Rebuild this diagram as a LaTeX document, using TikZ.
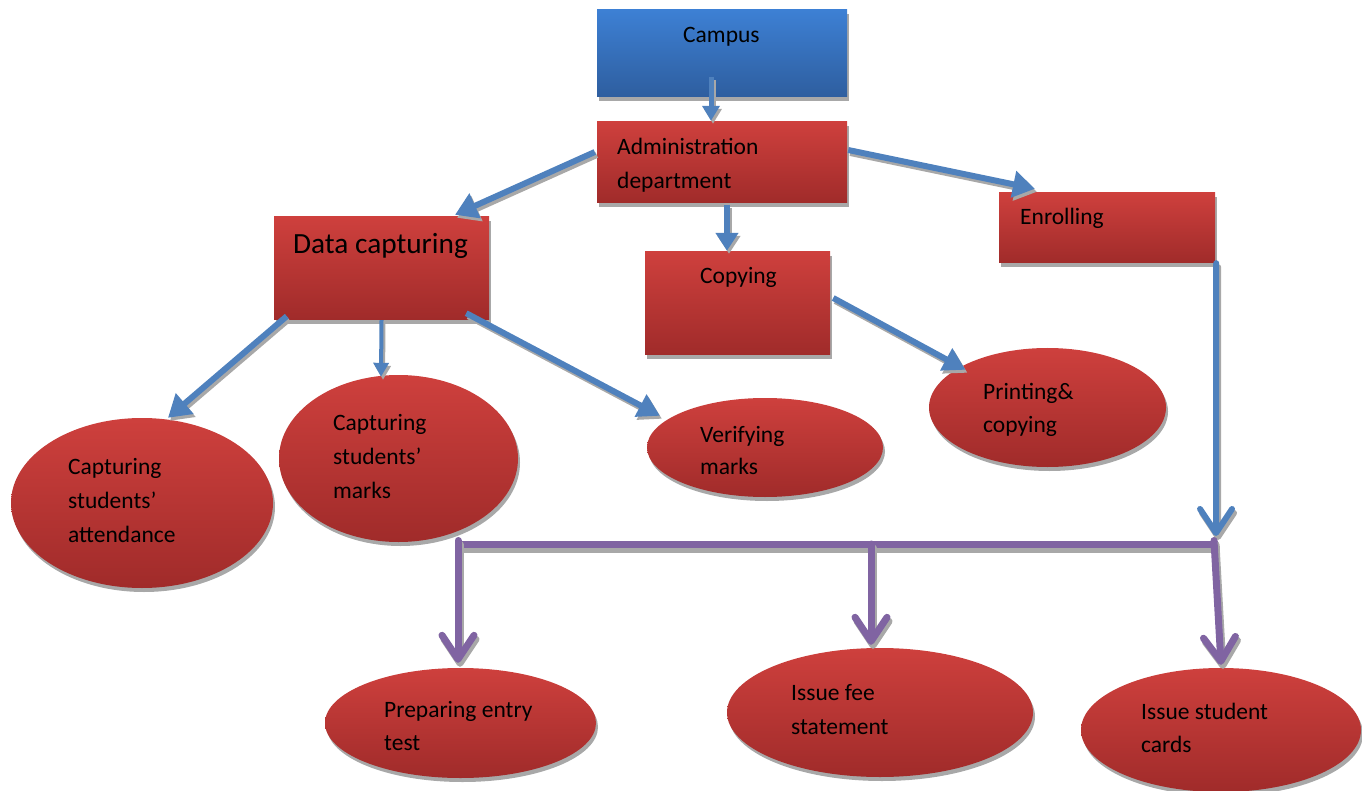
\documentclass[tikz,border=0pt]{standalone}
\usepackage{fontspec}
\setmainfont{Carlito}
\usetikzlibrary{arrows.meta,shadows,calc,shapes.geometric}
\definecolor{redtop}{HTML}{CE403D}
\definecolor{redbot}{HTML}{A02B2A}
\definecolor{bluetop}{HTML}{3D80D4}
\definecolor{bluebot}{HTML}{2E5E9F}
\definecolor{blueline}{HTML}{4F81BD}
\definecolor{purpleline}{HTML}{8064A2}
\definecolor{shgray}{HTML}{A8A8A8}
\begin{document}
\begin{tikzpicture}[x=1pt,y=-1pt,
  shadowed/.style={drop shadow={shadow xshift=2pt,shadow yshift=-4pt,fill=shgray,opacity=1}},
  redbox/.style={rectangle,inner sep=0pt,top color=redtop,bottom color=redbot,draw=none,shadowed},
  bluebox/.style={rectangle,inner sep=0pt,top color=bluetop,bottom color=bluebot,draw=none,shadowed},
  redoval/.style={ellipse,inner sep=0pt,top color=redtop,bottom color=redbot,draw=none,shadowed},
  lbl/.style={anchor=base west,align=left,inner sep=0pt,font=\fontsize{23.5}{34}\selectfont},
  barrow/.style n args={3}{line width=#1,draw=blueline,-{Triangle[length=#2,width=#3]},
    preaction={draw=shgray,line width=#1,-{Triangle[length=#2,width=#3]},transform canvas={xshift=2pt,yshift=-3pt}}},
  varrow/.style n args={2}{line width=#2,draw=#1,line cap=round,line join=round,
    -{Straight Barb[length=24pt,width=32pt,line cap=round,line join=round]},
    preaction={draw=shgray,line width=#2,line cap=round,line join=round,
      -{Straight Barb[length=24pt,width=32pt,line cap=round,line join=round]},transform canvas={xshift=2pt,yshift=-4pt}}},
  busline/.style={line width=7pt,draw=purpleline,line cap=butt,line join=miter,
    preaction={draw=shgray,line width=7pt,transform canvas={xshift=2pt,yshift=-5pt}}},
]
\useasboundingbox (0,0) rectangle (1362,791);

% boxes
\node[bluebox,minimum width=250pt,minimum height=87pt] (campus) at (722,53.5) {};
\node[redbox,minimum width=250pt,minimum height=81pt] (admin) at (722,162.5) {};
\node[redbox,minimum width=215pt,minimum height=103pt] (data) at (381.5,268.5) {};
\node[redbox,minimum width=185pt,minimum height=103pt] (copying) at (737.5,303.5) {};
\node[redbox,minimum width=216pt,minimum height=70pt] (enroll) at (1107,228) {};

% ellipses
\node[redoval,minimum width=262pt,minimum height=170pt] (att) at (142,503) {};
\node[redoval,minimum width=239pt,minimum height=167pt] (marks) at (398.5,458.5) {};
\node[redoval,minimum width=236pt,minimum height=99pt] (verif) at (765,447.5) {};
\node[redoval,minimum width=237pt,minimum height=119pt] (print) at (1047.5,407.5) {};
\node[redoval,minimum width=271pt,minimum height=110pt] (prep) at (460.5,723) {};
\node[redoval,minimum width=306pt,minimum height=129pt] (fee) at (880,712.5) {};
\node[redoval,minimum width=280pt,minimum height=124pt] (cards) at (1221,730) {};

% texts (base anchor = baseline of last line)
\node[lbl] (tcampus) at (683,43) {Campus};
\node[lbl] (tadmin) at (617,189) {Administration\\department};
\node[lbl,font=\fontsize{29.3}{34}\selectfont] (tdata) at (293,254) {Data capturing};
\node[lbl] (tcopy) at (700,284) {Copying};
\node[lbl] (tenroll) at (1020,225) {Enrolling};
\node[lbl] (tatt) at (68,542) {Capturing\\students’\\attendance};
\node[lbl] (tmarks) at (333,498) {Capturing\\students’\\marks};
\node[lbl,font=\fontsize{23.5}{32}\selectfont] (tverif) at (700,474) {Verifying\\marks};
\node[lbl,font=\fontsize{23.5}{33}\selectfont] (tprint) at (983,432) {Printing\&\\copying};
\node[lbl,font=\fontsize{23.5}{33}\selectfont] (tprep) at (384,750) {Preparing entry\\test};
\node[lbl] (tfee) at (791,734) {Issue fee\\statement};
\node[lbl,font=\fontsize{23.5}{33}\selectfont] (tcards) at (1141,752) {Issue student\\cards};

% blue arrows
\draw[barrow={5pt}{15pt}{17pt}] ($(campus.south)+(-11,-20)$) -- ($(admin.north)+(-11,-1)$);
\draw[barrow={6pt}{22pt}{26pt}] ($(admin.west)+(-2,-10.5)$) -- ($(data.north)+(73.5,-2)$);
\draw[barrow={6pt}{18pt}{22pt}] ($(admin.south)+(5,2)$) -- ($(copying.north)+(-10.5,-1)$);
\draw[barrow={6pt}{22pt}{26pt}] ($(admin.east)+(1,-12.5)$) -- ($(enroll.north)+(-72,-4)$);
\draw[barrow={6pt}{22pt}{26pt}] ($(data.south west)+(13,-4)$) -- ($(att.north)+(26,0)$);
\draw[barrow={4pt}{14pt}{15pt}] (data.south) -- ($(marks.north)+(-17.5,2)$);
\draw[barrow={6pt}{22pt}{24pt}] ($(data.south east)+(-23,-7)$) -- ($(verif.north)+(-105,18)$);
\draw[barrow={6pt}{22pt}{24pt}] ($(copying.east)+(3,-5.5)$) -- ($(print.north)+(-82,22)$);

% bus
\coordinate (busL) at (456,544);
\coordinate (busM) at (871,544);
\coordinate (busR) at (1218,544);
\draw[varrow={blueline}{6pt}] ($(enroll.south east)+(1,0)$) -- ($(busR)+(-2,-8)$);
\draw[busline] (busR) -- (busL);
\draw[varrow={purpleline}{7pt}] ($(busL)+(2,-3.5)$) -- ($(prep.north)+(-2.5,-5)$);
\draw[varrow={purpleline}{7pt}] (busM) -- ($(fee.north)+(-9,-3)$);
\draw[varrow={purpleline}{7pt}] ($(busR)+(-4,-3.5)$) -- ($(cards.north)+(0,-3)$);
\end{tikzpicture}
\end{document}
